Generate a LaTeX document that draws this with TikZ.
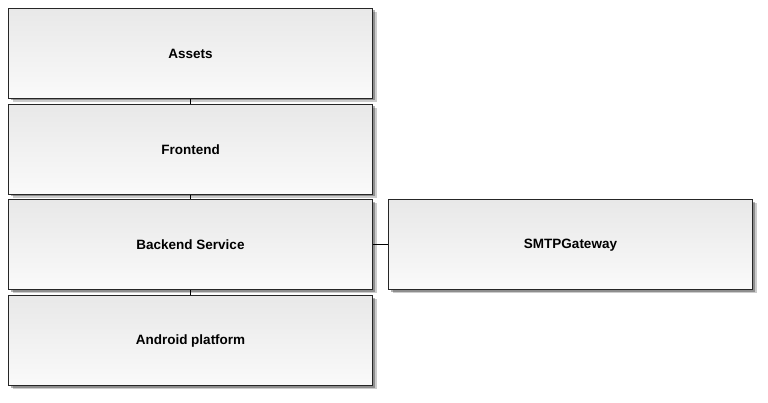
\documentclass[tikz,border=0pt]{standalone}
\usepackage{fontspec}
\setmainfont{Liberation Sans}
\usetikzlibrary{positioning,shadows}

\begin{document}
\begin{tikzpicture}
	[x=1pt, y=-1pt, node distance=4.7pt, line width=1pt,
	 block/.style={draw=black!85, minimum width=364pt, minimum height=90pt,
	  top color=black!9, middle color=black!11, bottom color=black!2,
	  font=\fontsize{13.5}{16}\selectfont\bfseries,
	  drop shadow={shadow xshift=4.5pt, shadow yshift=-3.5pt, fill=black, opacity=.2},
	  drop shadow={shadow xshift=2.5pt, shadow yshift=-2pt, fill=black, opacity=.3}}]
	\useasboundingbox (0,0) rectangle (768,403);
	\node[block] (assets) at (190.5,53.5) {Assets};
	\node[block] (frontend) [below=of assets] {Frontend};
	\node[block] (backend) [below=of frontend] {Backend Service};
	\node[block] (android) [below=of backend] {Android platform};
	\node[block] (smtp) [right=15pt of backend] {SMTPGateway};
	\path (assets) edge (frontend)
	(frontend) edge (backend)
	(backend) edge (android)
	(backend) edge (smtp);
\end{tikzpicture}
\end{document}
